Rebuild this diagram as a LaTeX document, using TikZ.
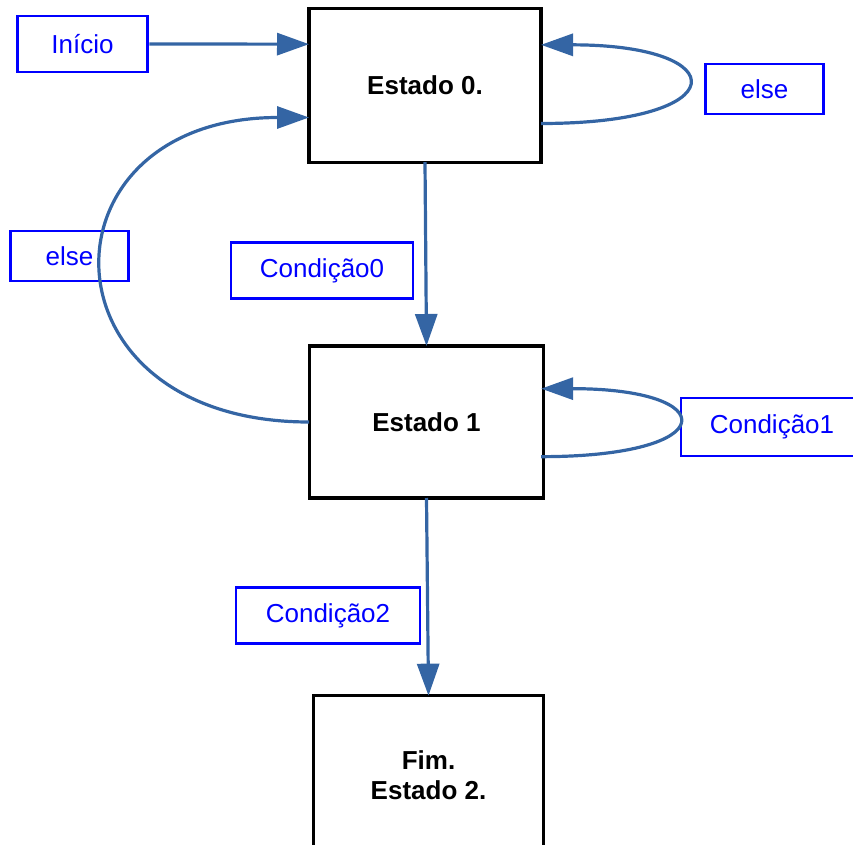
\documentclass[tikz,border=0pt]{standalone}
\usepackage{fontspec}
\setmainfont{Liberation Sans}
\usetikzlibrary{arrows.meta,positioning}
\definecolor{linkblue}{HTML}{3465A4}
\tikzset{
  state/.style={rectangle,draw=black,line width=2.3pt,outer sep=0pt,font=\fontsize{19.5}{22.5}\selectfont\bfseries,align=center,inner sep=0pt},
  cond/.style={rectangle,draw=blue,line width=2.2pt,text=blue,font=\fontsize{19.5}{22.5}\selectfont,inner sep=0pt,minimum height=42pt},
  trans/.style={-{Triangle[length=24pt,width=16.5pt]},draw=linkblue,line width=2.4pt},
}
\begin{document}
\begin{tikzpicture}[x=0.75pt,y=-0.75pt]
\useasboundingbox (0,0) rectangle (853,845);
% \draw[help lines] (0,0) grid (853,845);
\node (e0) [state,minimum width=174pt,minimum height=115pt] at (425,85.5) {Estado 0.};
\node (e1) [state,minimum width=176pt,minimum height=114pt] at (426.5,422) {Estado 1};
\node (e2) [state,minimum width=173pt,minimum height=119pt] at (428.5,775) {Fim.\\Estado 2.};
%
\node (ini) [cond,minimum width=98pt] at (82.5,44) {Início};
\node (else0) [cond,minimum width=89pt,minimum height=37.5pt] at (764.5,89) {else};
\node (else1) [cond,minimum width=89pt,minimum height=37.5pt] at (69.5,256) {else};
\node (c0) [cond,minimum width=136.5pt] at (322,270.5) {Condição0};
\node (c1) [cond,minimum width=136.5pt,minimum height=43.5pt] at (772,427) {Condição1};
\node (c2) [cond,minimum width=138pt] at (328,615.5) {Condição2};
%
\draw[trans] (ini.east) -- ([yshift=31pt]e0.west);
\draw[trans] ([yshift=-28.5pt]e0.east) .. controls +(195,0) and +(195,0) .. ([yshift=30.5pt]e0.east);
\draw[trans] (e0.south) -- (e1.north);
\draw[trans] (e1.west) .. controls +(-275,0) and +(-275,0) .. ([yshift=-24pt]e0.west);
\draw[trans] ([xshift=-2pt,yshift=-26pt]e1.east) .. controls +(182,0) and +(182,0) .. ([xshift=-2pt,yshift=25pt]e1.east);
\draw[trans] (e1.south) -- (e2.north);
\end{tikzpicture}
\end{document}
